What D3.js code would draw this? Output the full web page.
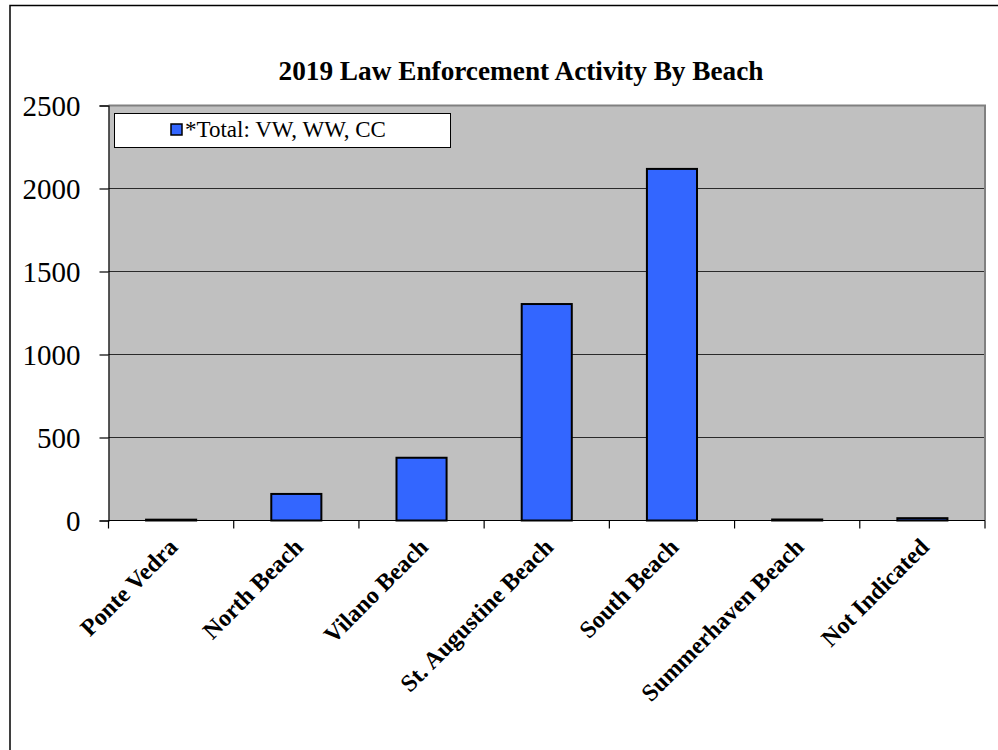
<!DOCTYPE html>
<html>
<head>
<meta charset="utf-8">
<script src="https://cdn.jsdelivr.net/npm/d3@7"></script>
<style>
  html, body { margin: 0; padding: 0; background: #fff; }
  svg { display: block; }
</style>
</head>
<body>
<svg id="chart" width="998" height="750"></svg>
<script>
// Beach categories and 2019 totals
const beaches = ["Ponte Vedra", "North Beach", "Vilano Beach", "St. Augustine Beach",
                 "South Beach", "Summerhaven Beach", "Not Indicated"];
const totals = [5, 160, 378, 1304, 2118, 6, 14];
const seriesName = "*Total: VW, WW, CC";
const yTicks = [0, 500, 1000, 1500, 2000, 2500];
const chartTitle = "2019  Law Enforcement Activity By Beach";

const svg = d3.select("#chart");
const W = 998, H = 750;
const plot = { left: 108.5, right: 985, top: 105.5, bottom: 520.5 };
const serif = "Liberation Serif, Times New Roman, serif";

// outer chart frame
svg.append("rect")
  .attr("x", 10).attr("y", 5.5).attr("width", W + 20).attr("height", H + 20)
  .attr("fill", "#fff").attr("stroke", "#000").attr("stroke-width", 1.5);

const x = d3.scaleBand().domain(beaches).range([plot.left, plot.right]).paddingInner(0).paddingOuter(0);
const y = d3.scaleLinear().domain([0, 2500]).range([plot.bottom, plot.top]);

// plot background
svg.append("rect")
  .attr("x", plot.left).attr("y", plot.top)
  .attr("width", plot.right - plot.left).attr("height", plot.bottom - plot.top)
  .attr("fill", "#c0c0c0");

// gridlines
svg.append("g")
  .selectAll("line")
  .data(yTicks.filter(d => d > 0 && d < 2500))
  .join("line")
  .attr("x1", plot.left).attr("x2", plot.right)
  .attr("y1", d => y(d)).attr("y2", d => y(d))
  .attr("stroke", "#2a2a2a").attr("stroke-width", 1.2);

// plot border (top and right)
svg.append("path")
  .attr("d", `M${plot.left},${plot.top}H${plot.right}V${plot.bottom}`)
  .attr("fill", "none").attr("stroke", "#808080").attr("stroke-width", 2);

// bars
const barW = x.bandwidth() * 0.4;
svg.append("g")
  .selectAll("rect")
  .data(beaches.map((b, i) => ({ b, v: totals[i] })))
  .join("rect")
  .attr("x", d => x(d.b) + (x.bandwidth() - barW) / 2)
  .attr("y", d => y(d.v))
  .attr("width", barW)
  .attr("height", d => y(0) - y(d.v))
  .attr("fill", "#3366ff")
  .attr("stroke", "#000").attr("stroke-width", 2);

// y axis
const yAxis = d3.axisLeft(y).tickValues(yTicks).tickFormat(d3.format("d")).tickSize(9).tickPadding(19);
const gy = svg.append("g").attr("transform", `translate(${plot.left},0)`).call(yAxis);
gy.select(".domain").attr("stroke", "#000").attr("stroke-width", 1.2);
gy.selectAll(".tick line").attr("stroke", "#000").attr("stroke-width", 1.2);
gy.selectAll(".tick text")
  .attr("font-family", serif).attr("font-size", 29).attr("fill", "#000")
  .attr("dy", "0.34em");

// x axis: ticks on category boundaries
const boundaries = beaches.map(b => x(b)).concat([plot.right]);
const gx = svg.append("g");
gx.append("line")
  .attr("x1", plot.left).attr("x2", plot.right)
  .attr("y1", plot.bottom).attr("y2", plot.bottom)
  .attr("stroke", "#000").attr("stroke-width", 1.2);
gx.selectAll("line.tk")
  .data(boundaries)
  .join("line").attr("class", "tk")
  .attr("x1", d => d).attr("x2", d => d)
  .attr("y1", plot.bottom).attr("y2", plot.bottom + 8)
  .attr("stroke", "#000").attr("stroke-width", 1.2);

// rotated category labels
gx.selectAll("text")
  .data(beaches)
  .join("text")
  .attr("transform", d => `translate(${x(d) + x.bandwidth() / 2 + 8},${plot.bottom + 28}) rotate(-45)`)
  .attr("text-anchor", "end")
  .attr("font-family", serif).attr("font-weight", "bold").attr("font-size", 24)
  .attr("fill", "#000")
  .text(d => d);

// title
svg.append("text")
  .attr("x", 521).attr("y", 80)
  .attr("text-anchor", "middle")
  .attr("font-family", serif).attr("font-weight", "bold").attr("font-size", 27)
  .attr("textLength", 485).attr("lengthAdjust", "spacingAndGlyphs")
  .attr("fill", "#000")
  .text(chartTitle);

// legend
const lg = svg.append("g");
lg.append("rect")
  .attr("x", 114.5).attr("y", 113.5).attr("width", 336).attr("height", 34)
  .attr("fill", "#fff").attr("stroke", "#000").attr("stroke-width", 1);
lg.append("rect")
  .attr("x", 171).attr("y", 124).attr("width", 11).attr("height", 11)
  .attr("fill", "#3366ff").attr("stroke", "#000").attr("stroke-width", 1.5);
lg.append("text")
  .attr("x", 185).attr("y", 137)
  .attr("font-family", serif).attr("font-size", 23).attr("fill", "#000")
  .text(seriesName);
</script>
</body>
</html>
